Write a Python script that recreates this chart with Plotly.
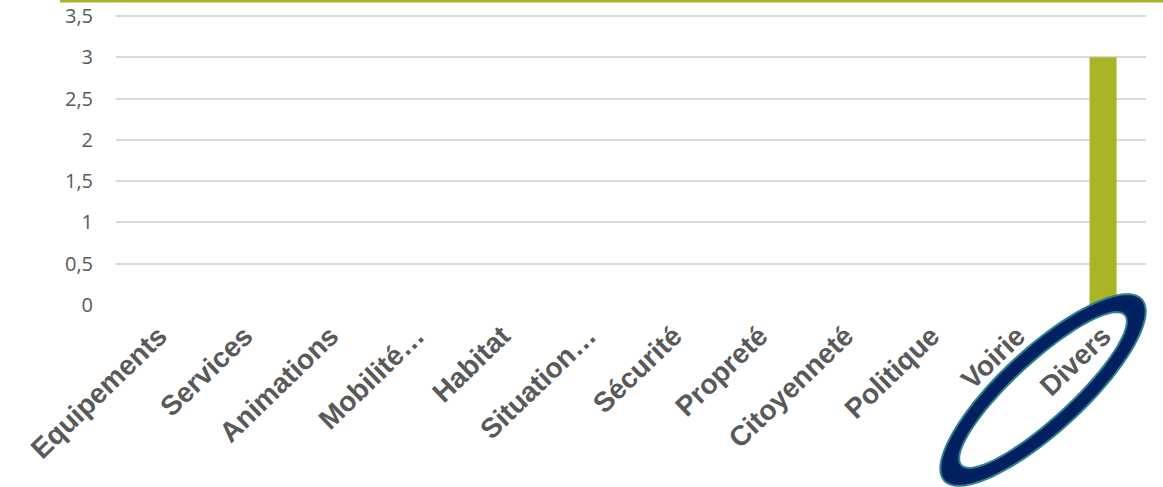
import math
import plotly.graph_objects as go

categories = ["Equipements", "Services", "Animations", "Mobilité…", "Habitat",
              "Situation…", "Sécurité", "Propreté", "Citoyenneté", "Politique",
              "Voirie", "Divers"]
values = [0, 0, 0, 0, 0, 0, 0, 0, 0, 0, 0, 3]
y_ticks = [0, 0.5, 1, 1.5, 2, 2.5, 3, 3.5]

W, H = 1163, 487
L, R, T, B = 116, 17, 12, 182
pw, ph = W - L - R, H - T - B
y_top = ph / (289 / 3.5)

def px_to_paper(x, y):
    return (x - L) / pw, (H - B - y) / ph

def ellipse_path(cx, cy, a, b, ang_deg, reverse=False, n=90):
    ang = math.radians(ang_deg)
    pts = []
    rng = range(n) if not reverse else range(n, 0, -1)
    for i in rng:
        t = 2 * math.pi * i / n
        ex, ey = a * math.cos(t), b * math.sin(t)
        x = cx + ex * math.cos(ang) - ey * math.sin(ang)
        y = cy - (ex * math.sin(ang) + ey * math.cos(ang))
        pts.append(px_to_paper(x, y))
    s = "M " + " L ".join(f"{px:.5f},{py:.5f}" for px, py in pts) + " Z"
    return s

fig = go.Figure(go.Bar(
    x=categories, y=values, marker_color="#A9B427", marker_line_width=0,
    showlegend=False, hoverinfo="skip"))

ring = ellipse_path(1043, 390, 134, 42, 42.6) + " " + ellipse_path(1043, 390, 111, 28, 42.6, reverse=True)

x0, y0 = px_to_paper(60, 1)
x1, _ = px_to_paper(1163, 1)

fig.update_layout(
    width=W, height=H,
    margin=dict(l=L, r=R, t=T, b=B, pad=0, autoexpand=False),
    paper_bgcolor="white", plot_bgcolor="white",
    bargap=0.685,
    separators=", ",
    xaxis=dict(tickangle=-44, tickfont=dict(family="Liberation Sans", size=28, color="#595959"),
               showgrid=False, showline=False, ticks="", zeroline=False, automargin=False,
               ticklabelstandoff=8),
    yaxis=dict(range=[0, y_top], tickvals=y_ticks, tickformat=",.1~f",
               tickfont=dict(family="Open Sans", size=20, color="#595959"),
               showgrid=True, gridcolor="#D9D9D9", gridwidth=1.5, automargin=False,
               zeroline=False, showline=False, ticks="", ticklabelstandoff=22),
    shapes=[
        dict(type="line", xref="paper", yref="paper", x0=x0, x1=x1, y0=y0, y1=y0,
             line=dict(color="#A9B427", width=3)),
        dict(type="path", xref="paper", yref="paper", path=ring,
             fillcolor="#002060", line=dict(color="#2E8090", width=2), layer="above"),
    ],
)
fig.update_xaxes(tickfont_weight="bold")

fig.write_html("out.html", config={"displayModeBar": False},
               post_script="document.body.style.margin='0px';document.body.style.overflow='hidden';")
